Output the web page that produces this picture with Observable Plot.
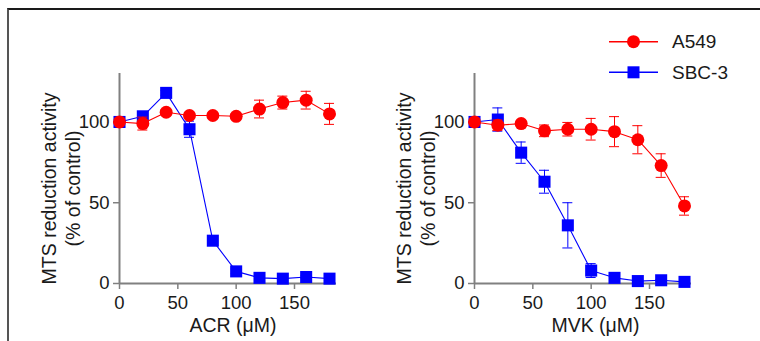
<!DOCTYPE html>
<html><head><meta charset="utf-8">
<script src="https://cdn.jsdelivr.net/npm/d3@7"></script>
<script src="https://cdn.jsdelivr.net/npm/@observablehq/plot@0.6"></script>
<style>
html,body{margin:0;padding:0;background:#fff;}
#wrap{position:relative;width:760px;height:341px;overflow:hidden;font-family:Arial,"Liberation Sans",sans-serif;}
#frame{position:absolute;left:7px;top:8px;right:-10px;bottom:-10px;border-top:2px solid #1a1a1a;border-left:2px solid #555;}
.panel{position:absolute;top:0;}
#legend{position:absolute;left:600px;top:20px;}
</style></head><body>
<div id="wrap"><div id="frame"></div><div id="p1" class="panel" style="left:0"></div><div id="p2" class="panel" style="left:355px"></div><svg id="legend" width="160" height="70"></svg></div>
<script>
const doses = [0, 20, 40, 60, 80, 100, 120, 140, 160, 180];
const seriesNames = ["A549", "SBC-3"];
const seriesColors = ["#ff0000", "#0000ff"];
const xTicks = [0, 50, 100, 150];
const yTicks = [0, 50, 100];
const yLabel = "MTS reduction activity\n(% of control)";

const acrA549    = [100, 99, 106, 104, 104, 103.5, 108, 112, 113.5, 105];
const acrA549Err = [0, 4, 1.5, 1.5, 1.5, 1.5, 5.5, 4, 5.5, 6.5];
const acrSBC3    = [100, 103.5, 118, 95.5, 26.5, 7.5, 3.5, 3, 4, 3];
const acrSBC3Err = [0, 1.5, 1.5, 5, 2, 1.5, 1, 1, 1, 1];

const mvkA549    = [100, 98, 99, 94.5, 95.5, 95.5, 94, 89, 73, 48];
const mvkA549Err = [0, 3.2, 1, 3.6, 4.2, 6.7, 9.3, 8.7, 7.3, 5.7];
const mvkSBC3    = [100, 101.5, 81, 63, 36, 8, 3.5, 1.5, 2, 1];
const mvkSBC3Err = [0, 7.2, 6.6, 7.1, 14, 4.3, 1, 0.5, 0.5, 0.5];

const AXIS = "#808080", INK = "#1a1a1a";

function rows(vals, errs) { return doses.map((x, i) => ({x, y: vals[i], e: errs[i]})); }

function panel(xLabel, a, aErr, s, sErr, labelDx) {
  const series = [
    {data: rows(s, sErr), color: seriesColors[1], symbol: "square", r: 6.8},
    {data: rows(a, aErr), color: seriesColors[0], symbol: "circle", r: 6.5}
  ];
  const marks = [
    Plot.ruleY([0], {stroke: AXIS, strokeWidth: 2}),
    Plot.ruleX([0], {stroke: AXIS, strokeWidth: 2}),
    Plot.axisX({ticks: xTicks, tickSize: 6, tickPadding: 6, stroke: AXIS, strokeWidth: 1.5, fill: INK, fontSize: 18.5, label: null}),
    Plot.axisY({ticks: yTicks, tickSize: 6, tickPadding: 4, stroke: AXIS, strokeWidth: 1.5, fill: INK, fontSize: 18.5, label: null}),
    Plot.text([yLabel], {text: d => d, frameAnchor: "left", textAnchor: "middle", rotate: -90, dx: -59, dy: 10, lineHeight: 1.2, fontSize: 19.5, fill: INK}),
    Plot.text([xLabel], {text: d => d, frameAnchor: "bottom", dy: 48, dx: labelDx, fontSize: 19.5, fill: INK})
  ];
  for (const {data, color, symbol, r} of series) {
    const eb = data.filter(d => d.e > 0);
    marks.push(
      Plot.ruleX(eb, {x: "x", y1: d => d.y - d.e, y2: d => d.y + d.e, stroke: color, strokeWidth: 1}),
      Plot.ruleY(eb, {y: d => d.y + d.e, x1: "x", x2: "x", insetLeft: -5, insetRight: -5, stroke: color, strokeWidth: 1}),
      Plot.ruleY(eb, {y: d => d.y - d.e, x1: "x", x2: "x", insetLeft: -5, insetRight: -5, stroke: color, strokeWidth: 1}),
      Plot.line(data, {x: "x", y: "y", stroke: color, strokeWidth: 1.1}),
      Plot.dot(data, {x: "x", y: "y", symbol, r, fill: color, stroke: "none"})
    );
  }
  return Plot.plot({
    width: 346, height: 341,
    marginLeft: 119, marginRight: 10, marginTop: 73, marginBottom: 58,
    x: {domain: [0, 186]},
    y: {domain: [0, 130]},
    style: {background: "none", fontFamily: "Arial, 'Liberation Sans', sans-serif", fontSize: "18.5px", color: INK, overflow: "visible"},
    marks
  });
}

document.getElementById("p1").append(panel("ACR (\u03bcM)", acrA549, acrA549Err, acrSBC3, acrSBC3Err, 5));
document.getElementById("p2").append(panel("MVK (\u03bcM)", mvkA549, mvkA549Err, mvkSBC3, mvkSBC3Err, 12.5));

// legend
const lg = d3.select("#legend");
seriesNames.forEach((name, i) => {
  const cy = i === 0 ? 21.7 : 52.3;
  const g = lg.append("g");
  g.append("line").attr("x1", 9).attr("x2", 58).attr("y1", cy).attr("y2", cy).attr("stroke", seriesColors[i]).attr("stroke-width", 1.5);
  if (i === 0) g.append("circle").attr("cx", 33.5).attr("cy", cy).attr("r", 6.5).attr("fill", seriesColors[i]);
  else g.append("rect").attr("x", 27.5).attr("y", cy - 6).attr("width", 12).attr("height", 12).attr("fill", seriesColors[i]);
  g.append("text").attr("x", 72).attr("y", cy).attr("dy", "0.35em").attr("font-size", 19).attr("fill", INK)
    .attr("font-family", "Arial, 'Liberation Sans', sans-serif").text(name);
});
</script>
</body></html>
